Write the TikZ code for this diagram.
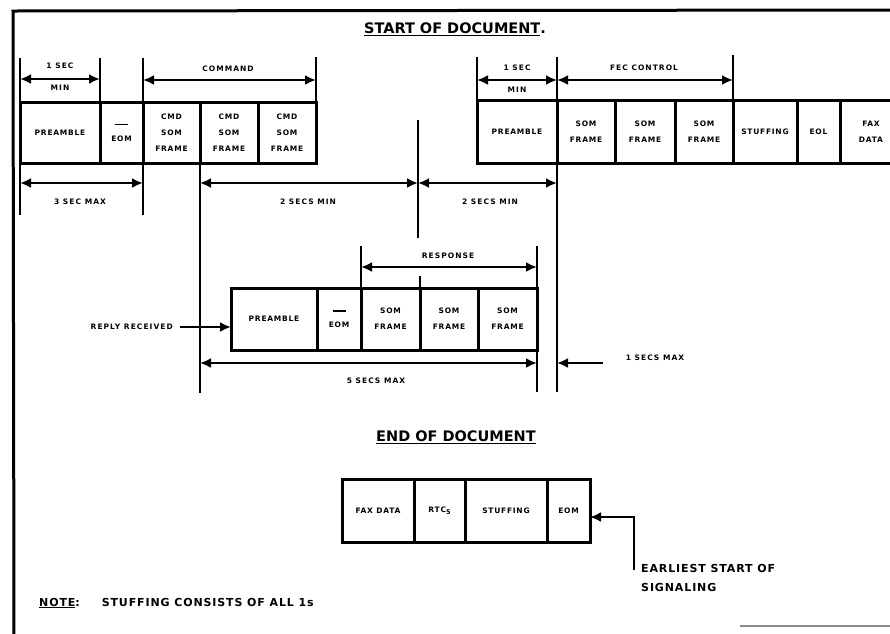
\documentclass[tikz,border=0pt]{standalone}
\usepackage{fontspec}
\setmainfont{DejaVu Sans}
\newfontfamily\lbl[LetterSpace=10]{DejaVu Sans}
\newfontfamily\lblw[LetterSpace=14]{DejaVu Sans}
\newfontfamily\lblb[LetterSpace=8]{DejaVu Sans}
\usetikzlibrary{arrows.meta}
\newcommand\cellfnt{\lbl\bfseries\fontsize{7.5}{16}\selectfont}
\newcommand\dimfnt{\lblw\bfseries\fontsize{7.5}{10}\selectfont}
\newcommand\bigfnt{\lblb\bfseries\fontsize{11}{19}\selectfont}
\newcommand\ttlfnt{\bfseries\fontsize{14.5}{17}\selectfont}
\newcommand\cellat[6]{%
  \node[cell, minimum width={(#3-#2)*1pt}, minimum height={(#5-#4)*1pt}] (#1) at ({(#2+#3)/2},{(#4+#5)/2}) {#6};}
\newcommand\eombar{\rule{13pt}{1.4pt}\\EOM}
\begin{document}
\begin{tikzpicture}[x=1pt,y=-1pt,
  cell/.style={draw, line width=3pt, inner sep=0pt, outer sep=0pt, font=\cellfnt, align=center},
  tick/.style={line width=2.4pt},
  dimline/.style={line width=2.4pt, {Latex[length=11pt,width=10pt]}-{Latex[length=11pt,width=10pt]}},
  ptr/.style={line width=2.4pt, -{Latex[length=11pt,width=10pt]}},
  dimtxt/.style={font=\dimfnt, inner sep=1pt},
  bigtxt/.style={font=\bigfnt, inner sep=1pt, align=left},
  frame/.style={line width=3pt}]
\useasboundingbox (0,0) rectangle (890,633);
\clip (0,0) rectangle (890,633);
% frame
\coordinate (fTL) at (13,11);
\coordinate (fTR) at (892,10);
\coordinate (fBL) at (14,635);
\draw[frame] (fTR) -- (fTL) -- (fBL);
\coordinate (bA) at (740,626);
\coordinate (bB) at (892,626);
\draw[line width=1.2pt, black!45] (bA) -- (bB);

% titles
\node[font=\ttlfnt, inner sep=0pt] (t1) at (455,29) {\underline{START OF DOCUMENT}.};
\node[font=\ttlfnt, inner sep=0pt] (t2) at (456,437) {\underline{END OF DOCUMENT}};

% top-left block
\cellat{a1}{20}{100}{102}{163}{PREAMBLE}
\cellat{a2}{100}{143}{102}{163}{\eombar}
\cellat{a3}{143}{200}{102}{163}{CMD\\SOM\\FRAME}
\cellat{a4}{200}{258}{102}{163}{CMD\\SOM\\FRAME}
\cellat{a5}{258}{316}{102}{163}{CMD\\SOM\\FRAME}

% top-right block
\cellat{b1}{477}{557}{100}{163}{PREAMBLE}
\cellat{b2}{557}{615}{100}{163}{SOM\\FRAME}
\cellat{b3}{615}{675}{100}{163}{SOM\\FRAME}
\cellat{b4}{675}{733}{100}{163}{SOM\\FRAME}
\cellat{b5}{733}{797}{100}{163}{STUFFING}
\cellat{b6}{797}{840}{100}{163}{EOL}
\cellat{b7}{840}{902}{100}{163}{FAX\\DATA}

% reply block
\cellat{c1}{231}{317}{288}{350}{PREAMBLE}
\cellat{c2}{317}{361}{288}{350}{\eombar}
\cellat{c3}{361}{420}{288}{350}{SOM\\FRAME}
\cellat{c4}{420}{478}{288}{350}{SOM\\FRAME}
\cellat{c5}{478}{537}{288}{350}{SOM\\FRAME}

% end block
\cellat{d1}{342}{414}{479}{542}{FAX DATA}
\cellat{d2}{414}{465}{479}{542}{RTC\raisebox{-2.5pt}{\fontsize{6.5}{7}\selectfont 5}}
\cellat{d3}{465}{547}{479}{542}{STUFFING}
\cellat{d4}{547}{590}{479}{542}{EOM}

% ticks (extension lines)
\foreach \n/\x/\ya/\yb in {k20/20/58/215, k100/100/58/102, k143/143/58/215, k316/316/57/102,
  k200/200/163/393, k418/418/120/238, k477/477/57/100, k557/557/57/392, k733/733/55/100,
  k361/361/246/288, k537/537/246/392, k420/420/276/288}{
  \coordinate (\n a) at (\x,\ya);
  \coordinate (\n b) at (\x,\yb);
  \draw[tick] (\n a) -- (\n b);
}

% dimension arrows
\coordinate (d1a) at (20,79);  \coordinate (d1b) at (100,79);
\draw[dimline] (d1a) -- (d1b);
\node[dimtxt] (l1a) at (60,66) {1 SEC};
\node[dimtxt] (l1b) at (60,88) {MIN};

\coordinate (d2a) at (143,80); \coordinate (d2b) at (316,80);
\draw[dimline] (d2a) -- (d2b);
\node[dimtxt] (l2) at (228,69) {COMMAND};

\coordinate (d3a) at (20,183); \coordinate (d3b) at (143,183);
\draw[dimline] (d3a) -- (d3b);
\node[dimtxt] (l3) at (80,202) {3 SEC MAX};

\coordinate (d4a) at (200,183); \coordinate (d4b) at (418,183);
\draw[dimline] (d4a) -- (d4b);
\node[dimtxt] (l4) at (308,202) {2 SECS MIN};

\coordinate (d5a) at (418,183); \coordinate (d5b) at (557,183);
\draw[dimline] (d5a) -- (d5b);
\node[dimtxt] (l5) at (490,202) {2 SECS MIN};

\coordinate (d6a) at (477,80); \coordinate (d6b) at (557,80);
\draw[dimline] (d6a) -- (d6b);
\node[dimtxt] (l6a) at (517,68) {1 SEC};
\node[dimtxt] (l6b) at (517,90) {MIN};

\coordinate (d7a) at (557,80); \coordinate (d7b) at (733,80);
\draw[dimline] (d7a) -- (d7b);
\node[dimtxt] (l7) at (644,68) {FEC CONTROL};

\coordinate (d8a) at (361,267); \coordinate (d8b) at (537,267);
\draw[dimline] (d8a) -- (d8b);
\node[dimtxt] (l8) at (448,256) {RESPONSE};

\coordinate (d9a) at (200,363); \coordinate (d9b) at (537,363);
\draw[dimline] (d9a) -- (d9b);
\node[dimtxt] (l9) at (376,381) {5 SECS MAX};

% pointers
\node[dimtxt, anchor=east] (rr) at (174,327) {REPLY RECEIVED};
\draw[ptr] (rr.east) ++(6,0) coordinate (rrs) -- (c1.west |- rrs);

\coordinate (m1) at (603,363);
\draw[ptr] (m1) -- (k557a |- m1);
\node[dimtxt] (l10) at (655,358) {1 SECS MAX};

\coordinate (es) at (634,570);
\coordinate (ec) at (634,517);
\draw[ptr] (es) -- (ec) -- (d4.east |- ec);
\node[bigtxt, anchor=north west] (l11) at (640,563) {EARLIEST START OF\\SIGNALING};

\node[bigtxt, anchor=west] (note) at (38,603) {\underline{NOTE}:\hspace{22pt}STUFFING CONSISTS OF ALL 1s};
\end{tikzpicture}
\end{document}
